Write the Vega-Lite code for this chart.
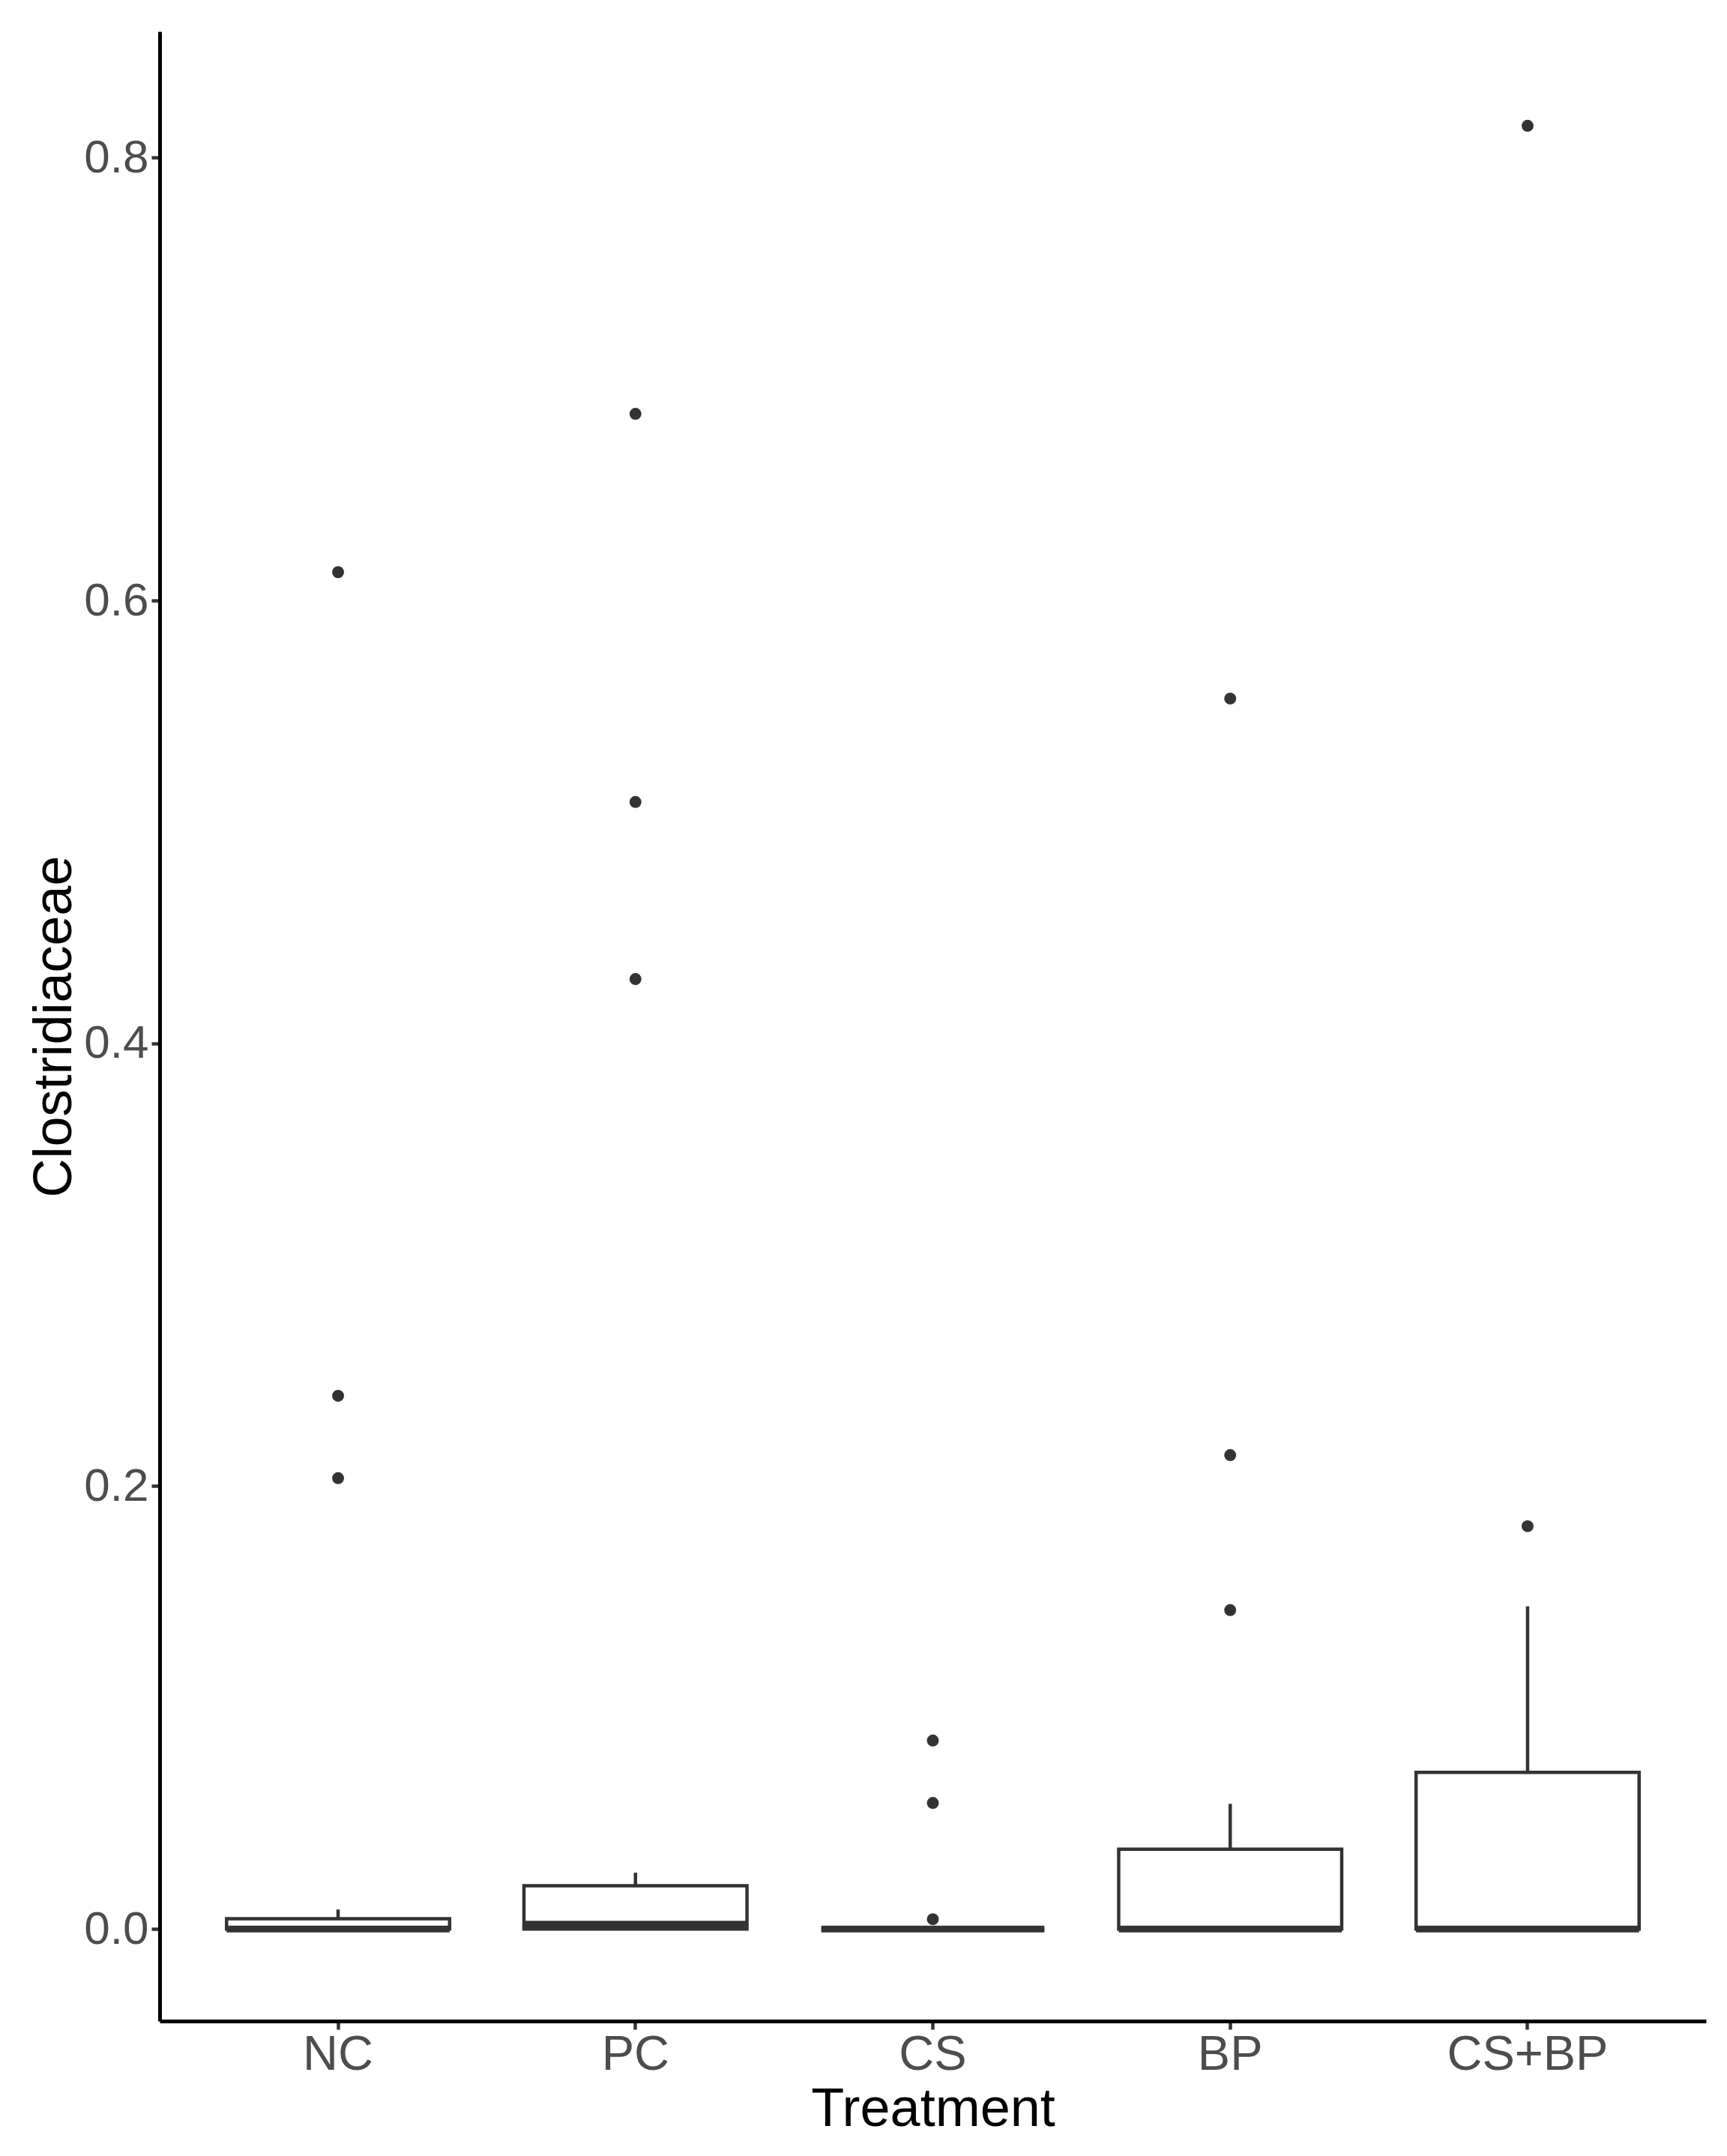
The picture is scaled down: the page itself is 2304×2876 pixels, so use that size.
{
  "$schema": "https://vega.github.io/schema/vega-lite/v6.json",
  "width": 2063,
  "height": 2654,
  "autosize": {"type": "none"},
  "padding": {"left": 213, "top": 42, "right": 28, "bottom": 180},
  "background": "white",
  "config": {
    "view": {"stroke": null},
    "axis": {
      "grid": false,
      "domainColor": "black",
      "domainWidth": 5,
      "tickColor": "#333333",
      "tickWidth": 4.5,
      "tickSize": 11,
      "labelFont": "Liberation Sans",
      "labelColor": "#4D4D4D",
      "labelLimit": 1000,
      "labelOverlap": false,
      "titleFont": "Liberation Sans",
      "titleColor": "black",
      "titleFontWeight": "normal",
      "titleFontSize": 72
    },
    "axisX": {"labelFontSize": 65, "labelPadding": 2, "titlePadding": 5, "labelAngle": 0},
    "axisY": {"labelFontSize": 62, "labelPadding": 4, "titlePadding": 2}
  },
  "datasets": {
    "boxes": [
      {"Treatment": "NC", "lower": 0, "q1": 0, "median": 0, "q3": 0.0046, "upper": 0.0088},
      {"Treatment": "PC", "lower": 0, "q1": 0, "median": 0.0022, "q3": 0.0195, "upper": 0.0254},
      {"Treatment": "CS", "lower": 0, "q1": 0, "median": 0, "q3": 0, "upper": 0},
      {"Treatment": "BP", "lower": 0, "q1": 0, "median": 0, "q3": 0.036, "upper": 0.0565},
      {"Treatment": "CS+BP", "lower": 0, "q1": 0, "median": 0, "q3": 0.0707, "upper": 0.1457}
    ],
    "outliers": [
      {"Treatment": "NC", "value": 0.6128},
      {"Treatment": "NC", "value": 0.2408},
      {"Treatment": "NC", "value": 0.2036},
      {"Treatment": "PC", "value": 0.6843},
      {"Treatment": "PC", "value": 0.509},
      {"Treatment": "PC", "value": 0.429},
      {"Treatment": "CS", "value": 0.0851},
      {"Treatment": "CS", "value": 0.0569},
      {"Treatment": "CS", "value": 0.0044},
      {"Treatment": "BP", "value": 0.5557},
      {"Treatment": "BP", "value": 0.214},
      {"Treatment": "BP", "value": 0.144},
      {"Treatment": "CS+BP", "value": 0.8144},
      {"Treatment": "CS+BP", "value": 0.1819}
    ]
  },
  "encoding": {
    "x": {
      "field": "Treatment",
      "type": "nominal",
      "sort": ["NC", "PC", "CS", "BP", "CS+BP"],
      "scale": {"type": "band", "paddingInner": 0.25, "paddingOuter": 0.225},
      "title": "Treatment"
    }
  },
  "layer": [
    {
      "data": {"name": "boxes"},
      "mark": {"type": "rule", "color": "#333333", "strokeWidth": 4.5, "opacity": 1},
      "encoding": {
        "y": {"field": "q3", "type": "quantitative", "title": "Clostridiaceae",
              "scale": {"domain": [-0.0416, 0.857], "nice": false, "zero": false},
              "axis": {"values": [0, 0.2, 0.4, 0.6, 0.8], "format": ".1f"}},
        "y2": {"field": "upper"}
      }
    },
    {
      "data": {"name": "boxes"},
      "mark": {"type": "bar", "fill": "white", "stroke": "#333333", "strokeWidth": 4.5, "opacity": 1},
      "encoding": {
        "y": {"field": "q1", "type": "quantitative", "title": "Clostridiaceae",
              "scale": {"domain": [-0.0416, 0.857], "nice": false, "zero": false},
              "axis": {"values": [0, 0.2, 0.4, 0.6, 0.8], "format": ".1f"}},
        "y2": {"field": "q3"}
      }
    },
    {
      "data": {"name": "boxes"},
      "mark": {"type": "tick", "color": "#333333", "thickness": 9, "opacity": 1},
      "encoding": {
        "y": {"field": "median", "type": "quantitative", "title": "Clostridiaceae",
              "scale": {"domain": [-0.0416, 0.857], "nice": false, "zero": false},
              "axis": {"values": [0, 0.2, 0.4, 0.6, 0.8], "format": ".1f"}}
      }
    },
    {
      "data": {"name": "outliers"},
      "mark": {"type": "circle", "color": "#333333", "size": 254, "opacity": 1},
      "encoding": {
        "y": {"field": "value", "type": "quantitative", "title": "Clostridiaceae",
              "scale": {"domain": [-0.0416, 0.857], "nice": false, "zero": false},
              "axis": {"values": [0, 0.2, 0.4, 0.6, 0.8], "format": ".1f"}}
      }
    }
  ]
}
